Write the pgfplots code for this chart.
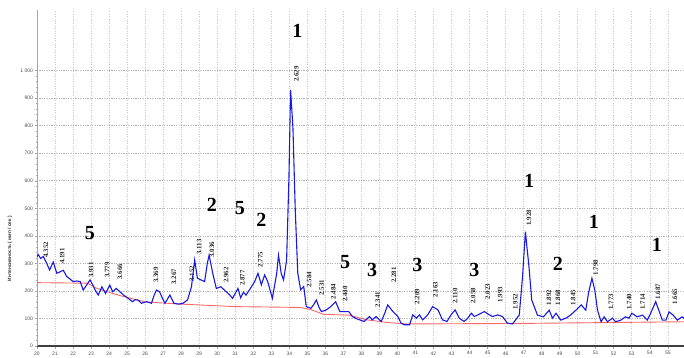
\documentclass[border=0pt]{standalone}
\usepackage{fontspec}
\setmainfont{Liberation Serif}
\setsansfont{Liberation Sans}
\usepackage{pgfplots}
\pgfplotsset{compat=1.18}
\definecolor{curveblue}{RGB}{25,25,225}
\definecolor{basered}{RGB}{250,105,105}
\tikzset{
  peak/.style={rotate=90, anchor=west, font=\bfseries\fontsize{6.8}{7}\selectfont, text=black!85, inner sep=0.5pt},
  phase/.style={font=\bfseries\fontsize{20}{20}\selectfont, anchor=center, inner sep=0pt},
}
\begin{document}
\begin{tikzpicture}
\useasboundingbox (-37pt,-12pt) rectangle (647pt,346pt);
\begin{axis}[
  scale only axis, width=647pt, height=336pt,
  xmin=20, xmax=55.9, ymin=0, ymax=1220,
  axis x line*=bottom, axis y line*=left,
  clip=false,
  xtick={20,...,55}, ytick={0,100,...,1000},
  yticklabels={0,100,200,300,400,500,600,700,800,900,1\ 000},
  minor y tick num=4,
  grid=major,
  x grid style={gray!45, dash pattern=on 1pt off 1.4pt, line width=0.5pt},
  y grid style={gray!60, dash pattern=on 1.2pt off 1.2pt, line width=0.6pt},
  x axis line style={line width=1.6pt, gray!50!black},
  y axis line style={line width=0.6pt, gray!70},
  tick style={gray!70, line width=0.5pt},
  major tick length=3pt, minor tick length=1.5pt,
  ytick align=center, xtick align=outside,
  /pgf/number format/assume math mode=true,
  ticklabel style={font=\sffamily\fontsize{5}{5}\selectfont, text=gray!60!black},
  xticklabel style={yshift=1pt},
  yticklabel style={xshift=1pt},
  ylabel={Интенсивность ( имп / сек )},
  ylabel style={at={(axis description cs:-0.042,0.29)}, anchor=center, font=\sffamily\bfseries\fontsize{4.8}{5}\selectfont, text=gray!35!black},
]
\addplot[basered, line width=0.9pt] coordinates {
(20,230) (22.8,228) (23.3,210) (24,195) (24.5,185) (26,160) (28,152) (31,143)
(34.6,140) (35.2,132) (35.9,115) (37.3,112) (38.3,95) (39.5,85) (40.5,80) (47,82) (55.9,88)
};
\addplot[curveblue, line width=1.1pt] coordinates {
(20.0,325) (20.07,332) (20.2,318) (20.35,325) (20.54,300) (20.7,276) (20.9,305) (21.1,264)
(21.3,270) (21.46,275) (21.65,252) (21.8,245) (22.0,234) (22.2,236) (22.4,234) (22.56,203)
(22.75,221) (22.94,240) (23.1,221) (23.25,200) (23.4,185) (23.6,215) (23.8,191) (24.04,221)
(24.2,197) (24.4,209) (24.6,197) (24.8,185) (25.06,173) (25.3,161) (25.45,168) (25.6,167)
(25.8,155) (26.08,161) (26.35,155) (26.5,185) (26.63,203) (26.8,197) (26.95,175) (27.1,155)
(27.37,185) (27.6,155) (27.85,152) (28.1,155) (28.35,167) (28.57,215) (28.75,312) (28.9,246)
(29.1,240) (29.3,234) (29.45,300) (29.55,330) (29.75,264) (29.95,209) (30.2,215) (30.5,197)
(30.7,185) (30.85,173) (31.15,209) (31.3,175) (31.45,195) (31.6,185) (31.8,205) (32.08,234)
(32.26,264) (32.45,222) (32.63,258) (32.8,234) (33.06,173) (33.3,264) (33.4,330) (33.55,264)
(33.68,240) (33.85,312) (33.98,613) (34.07,930) (34.2,795) (34.33,493) (34.47,264) (34.63,204)
(34.8,216) (34.94,143) (35.2,137) (35.35,150) (35.5,167) (35.65,140) (35.78,125) (36.05,131)
(36.3,143) (36.57,161) (36.8,125) (37.06,125) (37.3,125) (37.5,107) (37.7,100) (37.9,95)
(38.15,89) (38.45,107) (38.6,95) (38.82,107) (39.1,89) (39.3,120) (39.46,149) (39.75,125)
(40.02,107) (40.2,83) (40.39,77) (40.67,77) (40.85,113) (41.05,101) (41.22,113) (41.4,95)
(41.68,113) (41.95,143) (42.25,131) (42.5,95) (42.75,89) (42.97,113) (43.2,131) (43.43,101)
(43.7,89) (43.9,101) (44.1,119) (44.27,107) (44.55,116) (44.82,125) (45.1,113) (45.28,107)
(45.56,113) (45.83,107) (46.1,83) (46.38,80) (46.56,95) (46.76,113) (46.94,252) (47.1,415)
(47.3,286) (47.45,167) (47.77,112) (48.1,106) (48.42,130) (48.6,101) (48.8,119) (49.06,94)
(49.35,101) (49.6,112) (49.9,130) (50.2,149) (50.45,130) (50.6,192) (50.79,246) (50.95,203)
(51.1,130) (51.3,88) (51.47,106) (51.65,88) (51.93,101) (52.1,88) (52.4,94) (52.65,106)
(52.85,101) (53.0,119) (53.3,106) (53.6,112) (53.86,94) (54.05,119) (54.33,161) (54.5,130)
(54.7,94) (54.9,94) (55.07,124) (55.3,112) (55.53,94) (55.8,106) (55.9,100)
};
% peak d-spacing labels
\node[peak] at (axis cs:20.5,319) {4.352};
\node[peak] at (axis cs:21.4,297) {4.191};
\node[peak] at (axis cs:23.0,246) {3.931};
\node[peak] at (axis cs:23.9,246) {3.779};
\node[peak] at (axis cs:24.6,239) {3.666};
\node[peak] at (axis cs:26.6,228) {3.369};
\node[peak] at (axis cs:27.6,221) {3.267};
\node[peak] at (axis cs:28.6,232) {3.152};
\node[peak] at (axis cs:29.0,330) {3.113};
\node[peak] at (axis cs:29.7,319) {3.036};
\node[peak] at (axis cs:30.5,228) {2.962};
\node[peak] at (axis cs:31.4,217) {2.877};
\node[peak] at (axis cs:32.4,283) {2.775};
\node[peak] at (axis cs:34.4,957) {2.629};
\node[peak] at (axis cs:35.1,210) {2.584};
\node[peak] at (axis cs:35.8,181) {2.531};
\node[peak] at (axis cs:36.45,167) {2.484};
\node[peak] at (axis cs:37.1,159) {2.440};
\node[peak] at (axis cs:38.9,138) {2.341};
\node[peak] at (axis cs:39.8,228) {2.281};
\node[peak] at (axis cs:41.1,149) {2.209};
\node[peak] at (axis cs:42.1,174) {2.163};
\node[peak] at (axis cs:43.2,152) {2.110};
\node[peak] at (axis cs:44.2,152) {2.058};
\node[peak] at (axis cs:45.0,167) {2.023};
\node[peak] at (axis cs:45.7,156) {1.993};
\node[peak] at (axis cs:46.55,130) {1.952};
\node[peak] at (axis cs:47.3,435) {1.928};
\node[peak] at (axis cs:48.4,145) {1.892};
\node[peak] at (axis cs:48.9,145) {1.868};
\node[peak] at (axis cs:49.75,145) {1.845};
\node[peak] at (axis cs:51.0,254) {1.798};
\node[peak] at (axis cs:51.85,130) {1.773};
\node[peak] at (axis cs:52.85,130) {1.740};
\node[peak] at (axis cs:53.6,130) {1.714};
\node[peak] at (axis cs:54.45,167) {1.687};
\node[peak] at (axis cs:55.4,149) {1.665};
% phase numbers
\node[phase] at (axis cs:34.45,1145) {1};
\node[phase] at (axis cs:22.94,409) {5};
\node[phase] at (axis cs:29.7,514) {2};
\node[phase] at (axis cs:31.25,500) {5};
\node[phase] at (axis cs:32.45,457) {2};
\node[phase] at (axis cs:37.1,304) {5};
\node[phase] at (axis cs:38.6,275) {3};
\node[phase] at (axis cs:41.1,293) {3};
\node[phase] at (axis cs:44.27,275) {3};
\node[phase] at (axis cs:47.3,601) {1};
\node[phase] at (axis cs:48.9,297) {2};
\node[phase] at (axis cs:50.9,449) {1};
\node[phase] at (axis cs:54.4,366) {1};
\end{axis}
\end{tikzpicture}
\end{document}
